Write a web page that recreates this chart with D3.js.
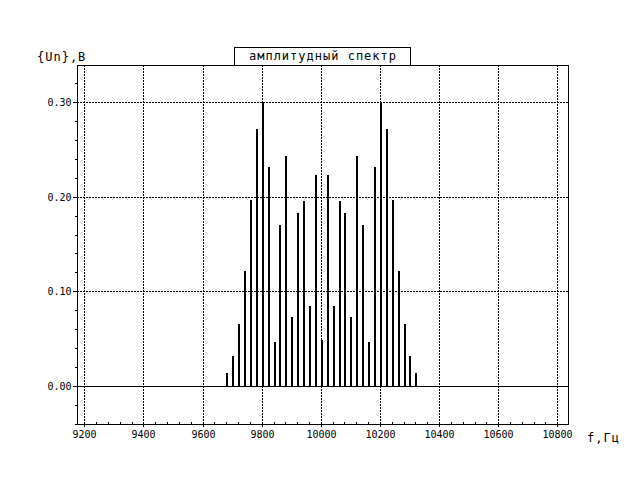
<!DOCTYPE html>
<html>
<head>
<meta charset="utf-8">
<script src="https://cdn.jsdelivr.net/npm/d3@7"></script>
<style>
  html, body { margin: 0; padding: 0; background: #fff; }
  svg { display: block; }
  .mono10 { font-family: "DejaVu Sans Mono", monospace; font-size: 10px; }
  .mono12 { font-family: "DejaVu Sans Mono", monospace; font-size: 12px; letter-spacing: 1px; }
</style>
</head>
<body>
<svg id="chart" width="640" height="480"></svg>
<script>
// ---- data ----
const frequencies = [9680, 9700, 9720, 9740, 9760, 9780, 9800, 9820, 9840, 9860, 9880,
  9900, 9920, 9940, 9960, 9980, 10000, 10020, 10040, 10060, 10080, 10100,
  10120, 10140, 10160, 10180, 10200, 10220, 10240, 10260, 10280, 10300, 10320];
const amplitudes = [0.014, 0.032, 0.065, 0.121, 0.196, 0.271, 0.300, 0.231, 0.046, 0.170, 0.243,
  0.073, 0.183, 0.195, 0.085, 0.223, 0.049, 0.223, 0.085, 0.195, 0.183, 0.073,
  0.243, 0.170, 0.046, 0.231, 0.300, 0.271, 0.196, 0.121, 0.065, 0.032, 0.014];
const xTicks = [9200, 9400, 9600, 9800, 10000, 10200, 10400, 10600, 10800];
const yTicks = [0.00, 0.10, 0.20, 0.30];
const yTickLabels = ["0.00", "0.10", "0.20", "0.30"];
const titleText = "амплитудный спектр";
const yAxisTitle = "{Un},В";
const xAxisTitle = "f,Гц";

// ---- layout ----
const L = 77, R = 568, T = 65, B = 424;
const svg = d3.select("#chart");
const x = d3.scaleLinear().domain([9175.3, 10836.2]).range([L, R]);
const y = d3.scaleLinear().domain([-0.0401, 0.3391]).range([B, T]);
const px = v => Math.round(v) + 0.5;

const g = svg.append("g").attr("shape-rendering", "crispEdges");

// vertical grid (extends below axis as major tick)
g.selectAll(".vgrid").data(xTicks).enter().append("line")
  .attr("x1", d => px(x(d))).attr("x2", d => px(x(d)))
  .attr("y1", T).attr("y2", B + 4)
  .attr("stroke", "#000").attr("stroke-width", 1).attr("stroke-dasharray", "2,1");

// horizontal grid
g.selectAll(".hgrid").data(yTicks.filter(d => d !== 0)).enter().append("line")
  .attr("x1", L).attr("x2", R)
  .attr("y1", d => px(y(d))).attr("y2", d => px(y(d)))
  .attr("stroke", "#000").attr("stroke-width", 1).attr("stroke-dasharray", "2,1");

// zero line
g.append("line").attr("x1", L).attr("x2", R)
  .attr("y1", px(y(0))).attr("y2", px(y(0)))
  .attr("stroke", "#000").attr("stroke-width", 1);

// bars
g.selectAll(".bar").data(frequencies).enter().append("rect")
  .attr("x", d => Math.round(x(d)) - 0)
  .attr("width", 2)
  .attr("y", (d, i) => Math.round(y(amplitudes[i])))
  .attr("height", (d, i) => Math.round(y(0)) - Math.round(y(amplitudes[i])) + 1)
  .attr("fill", "#000");

// y axis: major ticks with labels
const yAxis = d3.axisLeft(y).tickValues(yTicks)
  .tickFormat((d, i) => yTickLabels[i]).tickSize(5).tickPadding(1);
const ya = svg.append("g").attr("transform", `translate(${L + 0.5},0)`)
  .attr("shape-rendering", "crispEdges").call(yAxis);
ya.select(".domain").remove();
ya.selectAll(".tick line").attr("stroke", "#000");
ya.selectAll(".tick").attr("transform", d => `translate(0,${px(y(d))})`);
ya.selectAll("text").attr("class", "mono10").attr("fill", "#000")
  .attr("dy", "0.32em").attr("x", -6);

// y minor ticks every 0.02
const yMinor = d3.range(-0.04, 0.3301, 0.02).filter(v => Math.abs(Math.round(v * 100) % 10) !== 0);
const yam = svg.append("g").attr("transform", `translate(${L + 0.5},0)`)
  .attr("shape-rendering", "crispEdges")
  .call(d3.axisLeft(y).tickValues(yMinor).tickSize(3).tickFormat(""));
yam.select(".domain").remove();
yam.selectAll(".tick").attr("transform", d => `translate(0,${px(y(d))})`);

// x axis labels
const xAxis = d3.axisBottom(x).tickValues(xTicks).tickSize(0).tickPadding(0)
  .tickFormat(d3.format("d"));
const xa = svg.append("g").attr("transform", `translate(0,${B})`).call(xAxis);
xa.select(".domain").remove();
xa.selectAll(".tick").attr("transform", d => `translate(${px(x(d))},0)`);
xa.selectAll("text").attr("class", "mono10").attr("fill", "#000")
  .attr("dy", null).attr("y", 14);

// x minor ticks every 40 Hz (inward)
const xMinor = d3.range(9200, 10801, 40).filter(v => v % 200 !== 0);
const xam = svg.append("g").attr("transform", `translate(0,${B + 0.5})`)
  .attr("shape-rendering", "crispEdges")
  .call(d3.axisTop(x).tickValues(xMinor).tickSize(3).tickFormat(""));
xam.select(".domain").remove();
xam.selectAll(".tick").attr("transform", d => `translate(${px(x(d))},0)`);

// plot frame
svg.append("rect").attr("x", L + 0.5).attr("y", T + 0.5)
  .attr("width", R - L).attr("height", B - T)
  .attr("fill", "none").attr("stroke", "#000").attr("stroke-width", 1)
  .attr("shape-rendering", "crispEdges");

// title box
svg.append("rect").attr("x", 234.5).attr("y", 47.5)
  .attr("width", 176).attr("height", 18)
  .attr("fill", "#fff").attr("stroke", "#000").attr("stroke-width", 1)
  .attr("shape-rendering", "crispEdges");
svg.append("text").attr("class", "mono12").attr("x", 323).attr("y", 60)
  .attr("text-anchor", "middle").attr("fill", "#000").text(titleText);

// axis titles
svg.append("text").attr("class", "mono12").attr("x", 37).attr("y", 61)
  .attr("fill", "#000").text(yAxisTitle);
svg.append("text").attr("class", "mono12").attr("x", 587).attr("y", 442)
  .attr("fill", "#000").text(xAxisTitle);
</script>
</body>
</html>
